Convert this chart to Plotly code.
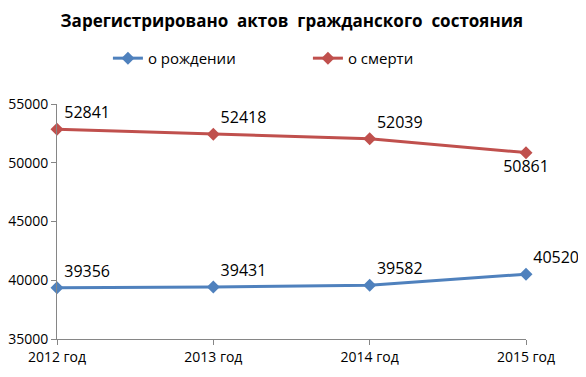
import plotly.graph_objects as go

years = ["2012 год", "2013 год", "2014 год", "2015 год"]
births = [39356, 39431, 39582, 40520]
deaths = [52841, 52418, 52039, 50861]
y_ticks = [35000, 40000, 45000, 50000, 55000]

BLUE = "#4F81BD"
RED = "#C0504D"
FONT = "Open Sans, Liberation Sans, sans-serif"

fig = go.Figure()
series = [
    ("о рождении", births, BLUE, ["top right", "top right", "top right", "top right"]),
    ("о смерти", deaths, RED, ["top right", "top right", "top right", "bottom center"]),
]
for name, vals, col, pos in series:
    fig.add_trace(go.Scatter(
        x=years, y=vals, name=name, mode="lines+markers+text",
        line=dict(color=col, width=3),
        marker=dict(symbol="diamond", size=10, color=col),
        text=[str(v) for v in vals], textposition=pos,
        textfont=dict(size=16, color="#000000", family=FONT),
        cliponaxis=False,
    ))

fig.update_layout(
    width=578, height=369,
    margin=dict(l=49, r=60, t=96, b=38),
    paper_bgcolor="white", plot_bgcolor="white",
    title=dict(text="<b>Зарегистрировано  актов  гражданского  состояния</b>",
               x=0.491, xanchor="center", y=0.965, yanchor="middle",
               font=dict(size=17, color="#000000", family=FONT)),
    legend=dict(orientation="h", x=0.535, xanchor="center", y=1.194, yanchor="middle",
                font=dict(size=15, color="#000000", family=FONT),
                itemwidth=30, entrywidth=155),
    showlegend=True,
    font=dict(family=FONT),
)
fig.update_xaxes(type="category", range=[0, 3], showgrid=False, automargin=False,
                 showline=True, linecolor="#868686", linewidth=1,
                 ticks="outside", ticklen=5, tickcolor="#868686",
                 tickfont=dict(size=14, color="#000000", family=FONT))
fig.update_yaxes(range=[35000, 55000], tickvals=y_ticks, ticktext=[str(v) for v in y_ticks],
                 showgrid=False, automargin=False,
                 showline=True, linecolor="#868686", linewidth=1,
                 ticks="outside", ticklen=5, tickcolor="#868686", zeroline=False,
                 tickfont=dict(size=14, color="#000000", family=FONT))
fig.write_html("out.html")
